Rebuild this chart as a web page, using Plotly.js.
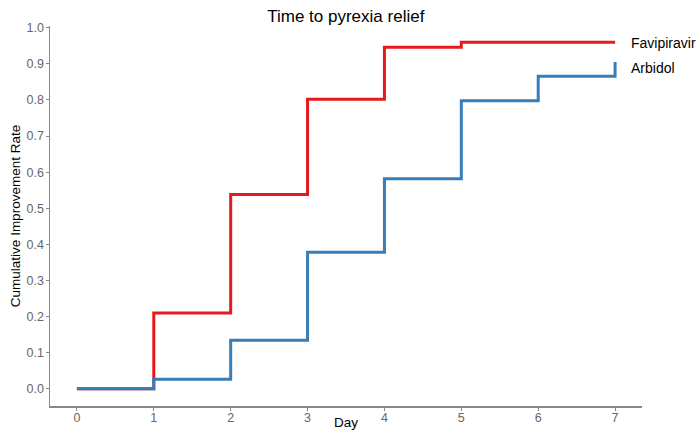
<!DOCTYPE html>
<html>
<head>
<meta charset="utf-8">
<script src="https://cdn.plot.ly/plotly-3.0.1.min.js"></script>
<style>html,body{margin:0;padding:0;background:#fff;}#chart{width:700px;height:430px;}</style>
</head>
<body>
<div id="chart"></div>
<script>
const favDays = [0, 1, 2, 3, 4, 5, 7];
const favRate = [0, 0.210, 0.538, 0.802, 0.946, 0.960, 0.960];
const arbDays = [0, 1, 2, 3, 4, 5, 6, 7];
const arbRate = [0, 0.026, 0.134, 0.378, 0.582, 0.798, 0.866, 0.905];
const xTicks = [0, 1, 2, 3, 4, 5, 6, 7];
const yTicks = [0, 0.1, 0.2, 0.3, 0.4, 0.5, 0.6, 0.7, 0.8, 0.9, 1.0];
const seriesNames = ['Favipiravir', 'Arbidol'];

const font = 'Liberation Sans, Arial, sans-serif';
const traces = [
  {x: favDays, y: favRate, mode: 'lines', line: {shape: 'hv', color: '#E41A1C', width: 3}, name: seriesNames[0]},
  {x: arbDays, y: arbRate, mode: 'lines', line: {shape: 'hv', color: '#377EB8', width: 3}, name: seriesNames[1]}
];
const layout = {
  width: 700, height: 430,
  margin: {l: 50, r: 58, t: 26, b: 24},
  paper_bgcolor: '#fff', plot_bgcolor: '#fff',
  showlegend: false,
  title: {text: 'Time to pyrexia relief', font: {family: font, size: 17, color: '#000'}, x: 0.494, xanchor: 'center', y: 0.962, yanchor: 'middle'},
  xaxis: {
    range: [-0.35, 7.35], tickvals: xTicks, ticktext: xTicks.map(String),
    showgrid: false, zeroline: false, showline: true, linecolor: '#888', linewidth: 1.5,
    ticks: 'outside', ticklen: 3, tickcolor: '#888',
    ticklabelstandoff: -4,
    tickfont: {family: font, size: 12.5, color: '#666'},
    title: {text: 'Day', font: {family: font, size: 13.5, color: '#000'}, standoff: 0}
  },
  yaxis: {
    range: [-0.048, 1.005], tickvals: yTicks, ticktext: yTicks.map(v => v.toFixed(1)),
    showgrid: false, zeroline: false, showline: true, linecolor: '#888', linewidth: 1.5,
    ticks: 'outside', ticklen: 3, tickcolor: '#888',
    ticklabelstandoff: -1,
    tickfont: {family: font, size: 12.5, color: '#666'},
    title: {text: 'Cumulative Improvement Rate', font: {family: font, size: 13.5, color: '#000'}, standoff: 3}
  },
  annotations: [
    {x: favDays[favDays.length-1], y: favRate[favRate.length-1], text: seriesNames[0], showarrow: false, xanchor: 'left', xshift: 14, yshift: -1, font: {family: font, size: 14, color: '#000'}},
    {x: arbDays[arbDays.length-1], y: arbRate[arbRate.length-1], text: seriesNames[1], showarrow: false, xanchor: 'left', xshift: 14, yshift: -6, font: {family: font, size: 14, color: '#000'}}
  ]
};
Plotly.newPlot('chart', traces, layout, {displayModeBar: false, staticPlot: true});
</script>
</body>
</html>
